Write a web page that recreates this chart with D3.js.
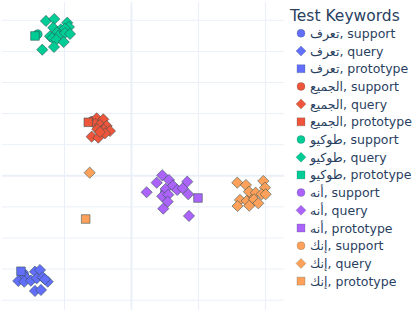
<!DOCTYPE html>
<html>
<head>
<meta charset="utf-8">
<script src="https://cdn.jsdelivr.net/npm/d3@7"></script>
<style>
  body { margin: 0; background: #fff; }
  svg { display: block; font-family: "DejaVu Sans", Verdana, sans-serif; }
</style>
</head>
<body>
<svg id="chart" width="415" height="312"></svg>
<script>
// keywords, in legend order
const keywords = ['تعرف', 'الجميع', 'طوكيو', 'أنه', 'إنك']
const kinds = ['support', 'query', 'prototype']
const colors = ['#636efa', '#EF553B', '#00cc96', '#ab63fa', '#FFA15A']

const xTicks = [-10, 0, 10, 20]
const yTicks = [-20, -15, -10, -5, 0, 5, 10, 15, 20, 25]

// support points (mostly hidden under the queries)
const supportPts = [
  [[-15.97, -15.87]],
  [[-5.82, 8.73]],
  [[-13.93, 22.67]],
  [[5.07, -2.68]],
  [[18.06, -3.17]]
]

const queryPts = [
  [[-14.33, -15.50], [-13.58, -15.23], [-15.82, -16.30], [-16.82, -16.99], [-15.93, -17.11],
   [-14.93, -16.95], [-14.07, -16.56], [-13.18, -16.40], [-12.43, -17.11], [-12.84, -16.72],
   [-14.33, -18.60], [-13.43, -18.44]],
  [[-5.12, 9.16], [-4.13, 9.00], [-5.37, 8.25], [-4.63, 8.09], [-3.63, 7.93], [-5.03, 7.40],
   [-4.03, 7.28], [-3.13, 7.12], [-5.87, 6.21], [-4.88, 6.05], [-3.88, 6.75], [-4.63, 6.96]],
  [[-12.69, 24.81], [-11.45, 25.13], [-9.51, 24.53], [-9.25, 23.84], [-11.60, 23.73],
   [-10.45, 23.47], [-9.85, 23.57], [-11.09, 22.93], [-12.09, 22.35], [-10.85, 22.40],
   [-9.85, 22.88], [-9.10, 22.72], [-11.75, 22.07], [-11.15, 21.80], [-10.04, 21.43],
   [-13.24, 20.19], [-11.49, 20.63]],
  [[4.67, 0], [3.84, -1.19], [5.67, -0.76], [8.40, -1.03], [5.18, -2.20], [6.27, -1.67],
   [6.91, -2.36], [7.72, -2.09], [2.34, -2.73], [4.67, -3.38], [5.57, -3.12], [8.55, -3.05],
   [5.48, -4.24], [4.82, -5.37], [8.66, -6.54]],
  [[-6.16, 0.42], [15.87, -1.19], [17.16, -1.56], [19.75, -0.92], [20.0, -1.99], [17.61, -2.64],
   [18.61, -2.80], [19.51, -3.05], [20.10, -3.05], [16.27, -3.97], [17.27, -4.13],
   [18.36, -3.86], [15.91, -4.94], [17.66, -4.89], [19.0, -4.50]]
]

const protoPts = [
  [-16.42, -15.43],
  [-6.37, 8.52],
  [-14.33, 22.40],
  [10.0, -3.65],
  [-6.76, -7.03]
]

const svg = d3.select('#chart')
const plot = {left: 2, right: 284, top: 2, bottom: 310}

const x = d3.scaleLinear().domain([-19.25, 22.84]).range([plot.left, plot.right])
const y = d3.scaleLinear().domain([-21.66, 27.86]).range([plot.bottom, plot.top])

// grid
const grid = svg.append('g')
grid.append('g').attr('transform', `translate(0,${plot.bottom})`)
  .call(d3.axisBottom(x).tickValues(xTicks).tickSize(-(plot.bottom - plot.top)).tickFormat(''))
grid.append('g').attr('transform', `translate(${plot.left},0)`)
  .call(d3.axisLeft(y).tickValues(yTicks).tickSize(-(plot.right - plot.left)).tickFormat(''))
grid.selectAll('.domain').remove()
grid.selectAll('line').attr('stroke', '#ebf0f8').attr('stroke-width', 1)
grid.selectAll('.tick').filter(d => d === 0).select('line').attr('stroke-width', 2)

const shape = {
  support: r => d3.symbol(d3.symbolCircle, Math.PI * r * r)(),
  query: r => `M0,${-r}L${r},0L0,${r}L${-r},0Z`,
  prototype: r => `M${-r},${-r}H${r}V${r}H${-r}Z`
}

const marks = svg.append('g')
keywords.forEach((k, i) => {
  const layers = [['support', supportPts[i], 4.5], ['query', queryPts[i], 5.6], ['prototype', [protoPts[i]], 4.3]]
  layers.forEach(([kind, pts, r]) => {
    marks.append('g').selectAll('path').data(pts).join('path')
      .attr('transform', d => `translate(${x(d[0])},${y(d[1])})`)
      .attr('d', shape[kind](r))
      .attr('fill', colors[i])
      .attr('stroke', '#2f4f4f')
      .attr('stroke-opacity', 0.7)
      .attr('stroke-width', 0.8)
  })
})

// legend
const legend = svg.append('g').attr('transform', 'translate(290,0)')
legend.append('text').attr('x', 0).attr('y', 21)
  .attr('font-size', 15.5).attr('fill', '#2a3f5f').text('Test Keywords')

const items = []
keywords.forEach((k, i) => kinds.forEach(kind => items.push({k, kind, color: colors[i]})))

const itemG = legend.selectAll('g.item').data(items).join('g')
  .attr('class', 'item')
  .attr('transform', (d, i) => `translate(0,${33.3 + i * 17.7})`)
itemG.append('path')
  .attr('transform', 'translate(11,0)')
  .attr('d', d => shape[d.kind](d.kind === 'query' ? 5 : 4))
  .attr('fill', d => d.color)
  .attr('stroke', '#2f4f4f').attr('stroke-opacity', 0.4).attr('stroke-width', 0.6)
itemG.append('text')
  .attr('x', 20).attr('y', 4.5)
  .attr('font-size', 12.5).attr('fill', '#2a3f5f')
  .text(d => `${d.k}, ${d.kind}`)
</script>
</body>
</html>
